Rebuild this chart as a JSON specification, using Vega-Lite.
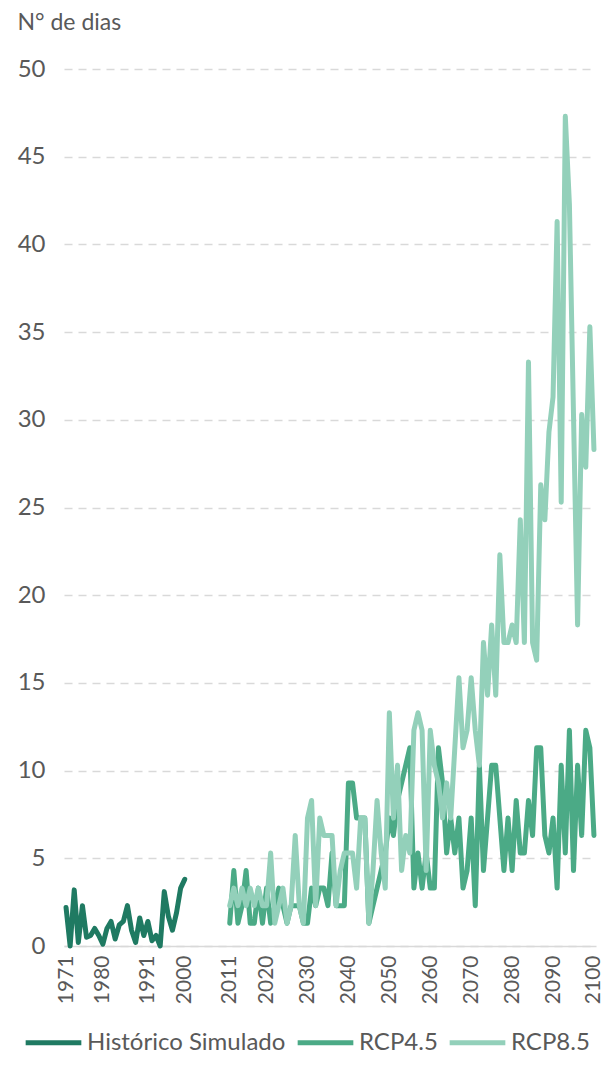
{
"$schema": "https://vega.github.io/schema/vega-lite/v6.json",
"width": 532, "height": 877,
"autosize": {"type": "none"},
"padding": {"left": 64, "top": 69, "right": 20, "bottom": 133},
"background": "white",
"config": {"font": "Lato", "view": {"stroke": null}},
"data": {"values": [
{"ano":1971,"serie":"Histórico Simulado","dias":2.2},{"ano":1972,"serie":"Histórico Simulado","dias":0},{"ano":1973,"serie":"Histórico Simulado","dias":3.2},{"ano":1974,"serie":"Histórico Simulado","dias":0.2},{"ano":1975,"serie":"Histórico Simulado","dias":2.3},{"ano":1976,"serie":"Histórico Simulado","dias":0.5},{"ano":1977,"serie":"Histórico Simulado","dias":0.6},{"ano":1978,"serie":"Histórico Simulado","dias":1.0},{"ano":1979,"serie":"Histórico Simulado","dias":0.6},{"ano":1980,"serie":"Histórico Simulado","dias":0.1},
{"ano":1981,"serie":"Histórico Simulado","dias":1.0},{"ano":1982,"serie":"Histórico Simulado","dias":1.4},{"ano":1983,"serie":"Histórico Simulado","dias":0.4},{"ano":1984,"serie":"Histórico Simulado","dias":1.2},{"ano":1985,"serie":"Histórico Simulado","dias":1.4},{"ano":1986,"serie":"Histórico Simulado","dias":2.3},{"ano":1987,"serie":"Histórico Simulado","dias":0.9},{"ano":1988,"serie":"Histórico Simulado","dias":0.2},{"ano":1989,"serie":"Histórico Simulado","dias":1.6},{"ano":1990,"serie":"Histórico Simulado","dias":0.6},
{"ano":1991,"serie":"Histórico Simulado","dias":1.4},{"ano":1992,"serie":"Histórico Simulado","dias":0.3},{"ano":1993,"serie":"Histórico Simulado","dias":0.6},{"ano":1994,"serie":"Histórico Simulado","dias":0.0},{"ano":1995,"serie":"Histórico Simulado","dias":3.1},{"ano":1996,"serie":"Histórico Simulado","dias":1.7},{"ano":1997,"serie":"Histórico Simulado","dias":0.9},{"ano":1998,"serie":"Histórico Simulado","dias":1.9},{"ano":1999,"serie":"Histórico Simulado","dias":3.3},{"ano":2000,"serie":"Histórico Simulado","dias":3.8},
{"ano":2011,"serie":"RCP4.5","dias":1.3},{"ano":2012,"serie":"RCP4.5","dias":4.3},{"ano":2013,"serie":"RCP4.5","dias":1.3},{"ano":2014,"serie":"RCP4.5","dias":2.3},{"ano":2015,"serie":"RCP4.5","dias":4.3},{"ano":2016,"serie":"RCP4.5","dias":1.3},{"ano":2017,"serie":"RCP4.5","dias":1.3},{"ano":2018,"serie":"RCP4.5","dias":3.3},{"ano":2019,"serie":"RCP4.5","dias":1.3},{"ano":2020,"serie":"RCP4.5","dias":3.3},
{"ano":2021,"serie":"RCP4.5","dias":1.3},{"ano":2022,"serie":"RCP4.5","dias":2.3},{"ano":2023,"serie":"RCP4.5","dias":3.3},{"ano":2024,"serie":"RCP4.5","dias":2.3},{"ano":2025,"serie":"RCP4.5","dias":1.3},{"ano":2026,"serie":"RCP4.5","dias":2.3},{"ano":2027,"serie":"RCP4.5","dias":2.3},{"ano":2028,"serie":"RCP4.5","dias":2.3},{"ano":2029,"serie":"RCP4.5","dias":1.3},{"ano":2030,"serie":"RCP4.5","dias":1.3},
{"ano":2031,"serie":"RCP4.5","dias":3.3},{"ano":2032,"serie":"RCP4.5","dias":2.3},{"ano":2033,"serie":"RCP4.5","dias":3.3},{"ano":2034,"serie":"RCP4.5","dias":3.3},{"ano":2035,"serie":"RCP4.5","dias":2.3},{"ano":2036,"serie":"RCP4.5","dias":5.3},{"ano":2037,"serie":"RCP4.5","dias":2.3},{"ano":2038,"serie":"RCP4.5","dias":2.3},{"ano":2039,"serie":"RCP4.5","dias":2.3},{"ano":2040,"serie":"RCP4.5","dias":9.3},
{"ano":2041,"serie":"RCP4.5","dias":9.3},{"ano":2042,"serie":"RCP4.5","dias":7.3},{"ano":2043,"serie":"RCP4.5","dias":7.3},{"ano":2044,"serie":"RCP4.5","dias":7.3},{"ano":2045,"serie":"RCP4.5","dias":1.3},{"ano":2046,"serie":"RCP4.5","dias":2.3},{"ano":2047,"serie":"RCP4.5","dias":3.3},{"ano":2048,"serie":"RCP4.5","dias":4.3},{"ano":2049,"serie":"RCP4.5","dias":5.3},{"ano":2050,"serie":"RCP4.5","dias":7.3},
{"ano":2051,"serie":"RCP4.5","dias":6.3},{"ano":2052,"serie":"RCP4.5","dias":8.3},{"ano":2053,"serie":"RCP4.5","dias":9.3},{"ano":2054,"serie":"RCP4.5","dias":10.3},{"ano":2055,"serie":"RCP4.5","dias":11.3},{"ano":2056,"serie":"RCP4.5","dias":3.3},{"ano":2057,"serie":"RCP4.5","dias":5.3},{"ano":2058,"serie":"RCP4.5","dias":3.3},{"ano":2059,"serie":"RCP4.5","dias":5.3},{"ano":2060,"serie":"RCP4.5","dias":3.3},
{"ano":2061,"serie":"RCP4.5","dias":3.3},{"ano":2062,"serie":"RCP4.5","dias":11.3},{"ano":2063,"serie":"RCP4.5","dias":9.3},{"ano":2064,"serie":"RCP4.5","dias":5.3},{"ano":2065,"serie":"RCP4.5","dias":7.3},{"ano":2066,"serie":"RCP4.5","dias":5.3},{"ano":2067,"serie":"RCP4.5","dias":7.3},{"ano":2068,"serie":"RCP4.5","dias":3.3},{"ano":2069,"serie":"RCP4.5","dias":4.3},{"ano":2070,"serie":"RCP4.5","dias":7.3},
{"ano":2071,"serie":"RCP4.5","dias":2.3},{"ano":2072,"serie":"RCP4.5","dias":10.3},{"ano":2073,"serie":"RCP4.5","dias":4.3},{"ano":2074,"serie":"RCP4.5","dias":7.3},{"ano":2075,"serie":"RCP4.5","dias":10.3},{"ano":2076,"serie":"RCP4.5","dias":10.3},{"ano":2077,"serie":"RCP4.5","dias":7.3},{"ano":2078,"serie":"RCP4.5","dias":4.3},{"ano":2079,"serie":"RCP4.5","dias":7.3},{"ano":2080,"serie":"RCP4.5","dias":4.3},
{"ano":2081,"serie":"RCP4.5","dias":8.3},{"ano":2082,"serie":"RCP4.5","dias":5.3},{"ano":2083,"serie":"RCP4.5","dias":5.3},{"ano":2084,"serie":"RCP4.5","dias":8.3},{"ano":2085,"serie":"RCP4.5","dias":6.3},{"ano":2086,"serie":"RCP4.5","dias":11.3},{"ano":2087,"serie":"RCP4.5","dias":11.3},{"ano":2088,"serie":"RCP4.5","dias":6.3},{"ano":2089,"serie":"RCP4.5","dias":5.3},{"ano":2090,"serie":"RCP4.5","dias":7.3},
{"ano":2091,"serie":"RCP4.5","dias":3.3},{"ano":2092,"serie":"RCP4.5","dias":10.3},{"ano":2093,"serie":"RCP4.5","dias":5.3},{"ano":2094,"serie":"RCP4.5","dias":12.3},{"ano":2095,"serie":"RCP4.5","dias":4.3},{"ano":2096,"serie":"RCP4.5","dias":10.3},{"ano":2097,"serie":"RCP4.5","dias":6.3},{"ano":2098,"serie":"RCP4.5","dias":12.3},{"ano":2099,"serie":"RCP4.5","dias":11.3},{"ano":2100,"serie":"RCP4.5","dias":6.3},
{"ano":2011,"serie":"RCP8.5","dias":2.3},{"ano":2012,"serie":"RCP8.5","dias":3.3},{"ano":2013,"serie":"RCP8.5","dias":2.3},{"ano":2014,"serie":"RCP8.5","dias":3.3},{"ano":2015,"serie":"RCP8.5","dias":2.3},{"ano":2016,"serie":"RCP8.5","dias":3.3},{"ano":2017,"serie":"RCP8.5","dias":2.3},{"ano":2018,"serie":"RCP8.5","dias":3.3},{"ano":2019,"serie":"RCP8.5","dias":2.3},{"ano":2020,"serie":"RCP8.5","dias":2.3},
{"ano":2021,"serie":"RCP8.5","dias":5.3},{"ano":2022,"serie":"RCP8.5","dias":1.3},{"ano":2023,"serie":"RCP8.5","dias":2.3},{"ano":2024,"serie":"RCP8.5","dias":3.3},{"ano":2025,"serie":"RCP8.5","dias":1.3},{"ano":2026,"serie":"RCP8.5","dias":2.3},{"ano":2027,"serie":"RCP8.5","dias":6.3},{"ano":2028,"serie":"RCP8.5","dias":2.3},{"ano":2029,"serie":"RCP8.5","dias":1.3},{"ano":2030,"serie":"RCP8.5","dias":7.3},
{"ano":2031,"serie":"RCP8.5","dias":8.3},{"ano":2032,"serie":"RCP8.5","dias":2.3},{"ano":2033,"serie":"RCP8.5","dias":7.3},{"ano":2034,"serie":"RCP8.5","dias":6.3},{"ano":2035,"serie":"RCP8.5","dias":6.3},{"ano":2036,"serie":"RCP8.5","dias":6.3},{"ano":2037,"serie":"RCP8.5","dias":2.3},{"ano":2038,"serie":"RCP8.5","dias":4.3},{"ano":2039,"serie":"RCP8.5","dias":5.3},{"ano":2040,"serie":"RCP8.5","dias":5.3},
{"ano":2041,"serie":"RCP8.5","dias":5.3},{"ano":2042,"serie":"RCP8.5","dias":3.3},{"ano":2043,"serie":"RCP8.5","dias":7.3},{"ano":2044,"serie":"RCP8.5","dias":7.3},{"ano":2045,"serie":"RCP8.5","dias":1.3},{"ano":2046,"serie":"RCP8.5","dias":4.3},{"ano":2047,"serie":"RCP8.5","dias":8.3},{"ano":2048,"serie":"RCP8.5","dias":5.3},{"ano":2049,"serie":"RCP8.5","dias":3.3},{"ano":2050,"serie":"RCP8.5","dias":13.3},
{"ano":2051,"serie":"RCP8.5","dias":7.3},{"ano":2052,"serie":"RCP8.5","dias":10.3},{"ano":2053,"serie":"RCP8.5","dias":4.3},{"ano":2054,"serie":"RCP8.5","dias":6.3},{"ano":2055,"serie":"RCP8.5","dias":5.3},{"ano":2056,"serie":"RCP8.5","dias":12.3},{"ano":2057,"serie":"RCP8.5","dias":13.3},{"ano":2058,"serie":"RCP8.5","dias":12.3},{"ano":2059,"serie":"RCP8.5","dias":4.3},{"ano":2060,"serie":"RCP8.5","dias":12.3},
{"ano":2061,"serie":"RCP8.5","dias":10.3},{"ano":2062,"serie":"RCP8.5","dias":9.3},{"ano":2063,"serie":"RCP8.5","dias":7.3},{"ano":2064,"serie":"RCP8.5","dias":9.3},{"ano":2065,"serie":"RCP8.5","dias":7.3},{"ano":2066,"serie":"RCP8.5","dias":11.3},{"ano":2067,"serie":"RCP8.5","dias":15.3},{"ano":2068,"serie":"RCP8.5","dias":11.3},{"ano":2069,"serie":"RCP8.5","dias":12.3},{"ano":2070,"serie":"RCP8.5","dias":15.3},
{"ano":2071,"serie":"RCP8.5","dias":12.3},{"ano":2072,"serie":"RCP8.5","dias":10.3},{"ano":2073,"serie":"RCP8.5","dias":17.3},{"ano":2074,"serie":"RCP8.5","dias":14.3},{"ano":2075,"serie":"RCP8.5","dias":18.3},{"ano":2076,"serie":"RCP8.5","dias":14.3},{"ano":2077,"serie":"RCP8.5","dias":22.3},{"ano":2078,"serie":"RCP8.5","dias":17.3},{"ano":2079,"serie":"RCP8.5","dias":17.3},{"ano":2080,"serie":"RCP8.5","dias":18.3},
{"ano":2081,"serie":"RCP8.5","dias":17.3},{"ano":2082,"serie":"RCP8.5","dias":24.3},{"ano":2083,"serie":"RCP8.5","dias":17.3},{"ano":2084,"serie":"RCP8.5","dias":33.3},{"ano":2085,"serie":"RCP8.5","dias":17.3},{"ano":2086,"serie":"RCP8.5","dias":16.3},{"ano":2087,"serie":"RCP8.5","dias":26.3},{"ano":2088,"serie":"RCP8.5","dias":24.3},{"ano":2089,"serie":"RCP8.5","dias":29.3},{"ano":2090,"serie":"RCP8.5","dias":31.3},
{"ano":2091,"serie":"RCP8.5","dias":41.3},{"ano":2092,"serie":"RCP8.5","dias":25.3},{"ano":2093,"serie":"RCP8.5","dias":47.3},{"ano":2094,"serie":"RCP8.5","dias":42.3},{"ano":2095,"serie":"RCP8.5","dias":30.3},{"ano":2096,"serie":"RCP8.5","dias":18.3},{"ano":2097,"serie":"RCP8.5","dias":30.3},{"ano":2098,"serie":"RCP8.5","dias":27.3},{"ano":2099,"serie":"RCP8.5","dias":35.3},{"ano":2100,"serie":"RCP8.5","dias":28.3}
]},
"mark": {"type": "line", "strokeWidth": 5, "strokeCap": "round", "strokeJoin": "round"},
"encoding": {
  "x": {"field": "ano", "type": "quantitative",
    "scale": {"domain": [1970.5, 2100.5], "nice": false, "zero": false},
    "axis": {"title": null, "values": [1971,1980,1991,2000,2011,2020,2030,2040,2050,2060,2070,2080,2090,2100], "format": "d",
      "labelAngle": 270, "labelAlign": "right", "labelBaseline": "middle", "labelFontSize": 21, "labelColor": "#595959",
      "labelPadding": 9, "ticks": false, "grid": false, "domainColor": "#d9d9d9", "domainWidth": 1.5, "labelFlush": false, "labelOverlap": false}},
  "y": {"field": "dias", "type": "quantitative",
    "scale": {"domain": [0, 50], "nice": false},
    "axis": {"title": "N° de dias", "titleAngle": 0, "titleX": -47, "titleY": -47, "titleAlign": "left", "titleBaseline": "middle",
      "titleFontSize": 23, "titleFontWeight": "normal", "titleColor": "#595959",
      "values": [0,5,10,15,20,25,30,35,40,45,50], "labelFontSize": 24, "labelColor": "#595959", "labelPadding": 19,
      "ticks": false, "domain": false, "grid": true, "gridColor": "#d9d9d9", "gridDash": [8,6], "gridWidth": 1.5}},
  "color": {"field": "serie", "type": "nominal",
    "scale": {"domain": ["Histórico Simulado","RCP4.5","RCP8.5"], "range": ["#1F7A62","#4BAA86","#93D0BA"]},
    "legend": {"title": null, "orient": "none", "legendX": -41, "legendY": 943, "direction": "horizontal",
      "symbolType": "stroke", "symbolSize": 3100, "symbolStrokeWidth": 5, "labelFontSize": 24, "labelColor": "#595959",
      "labelLimit": 400, "columnPadding": 1, "labelOffset": 3}}
}
}
